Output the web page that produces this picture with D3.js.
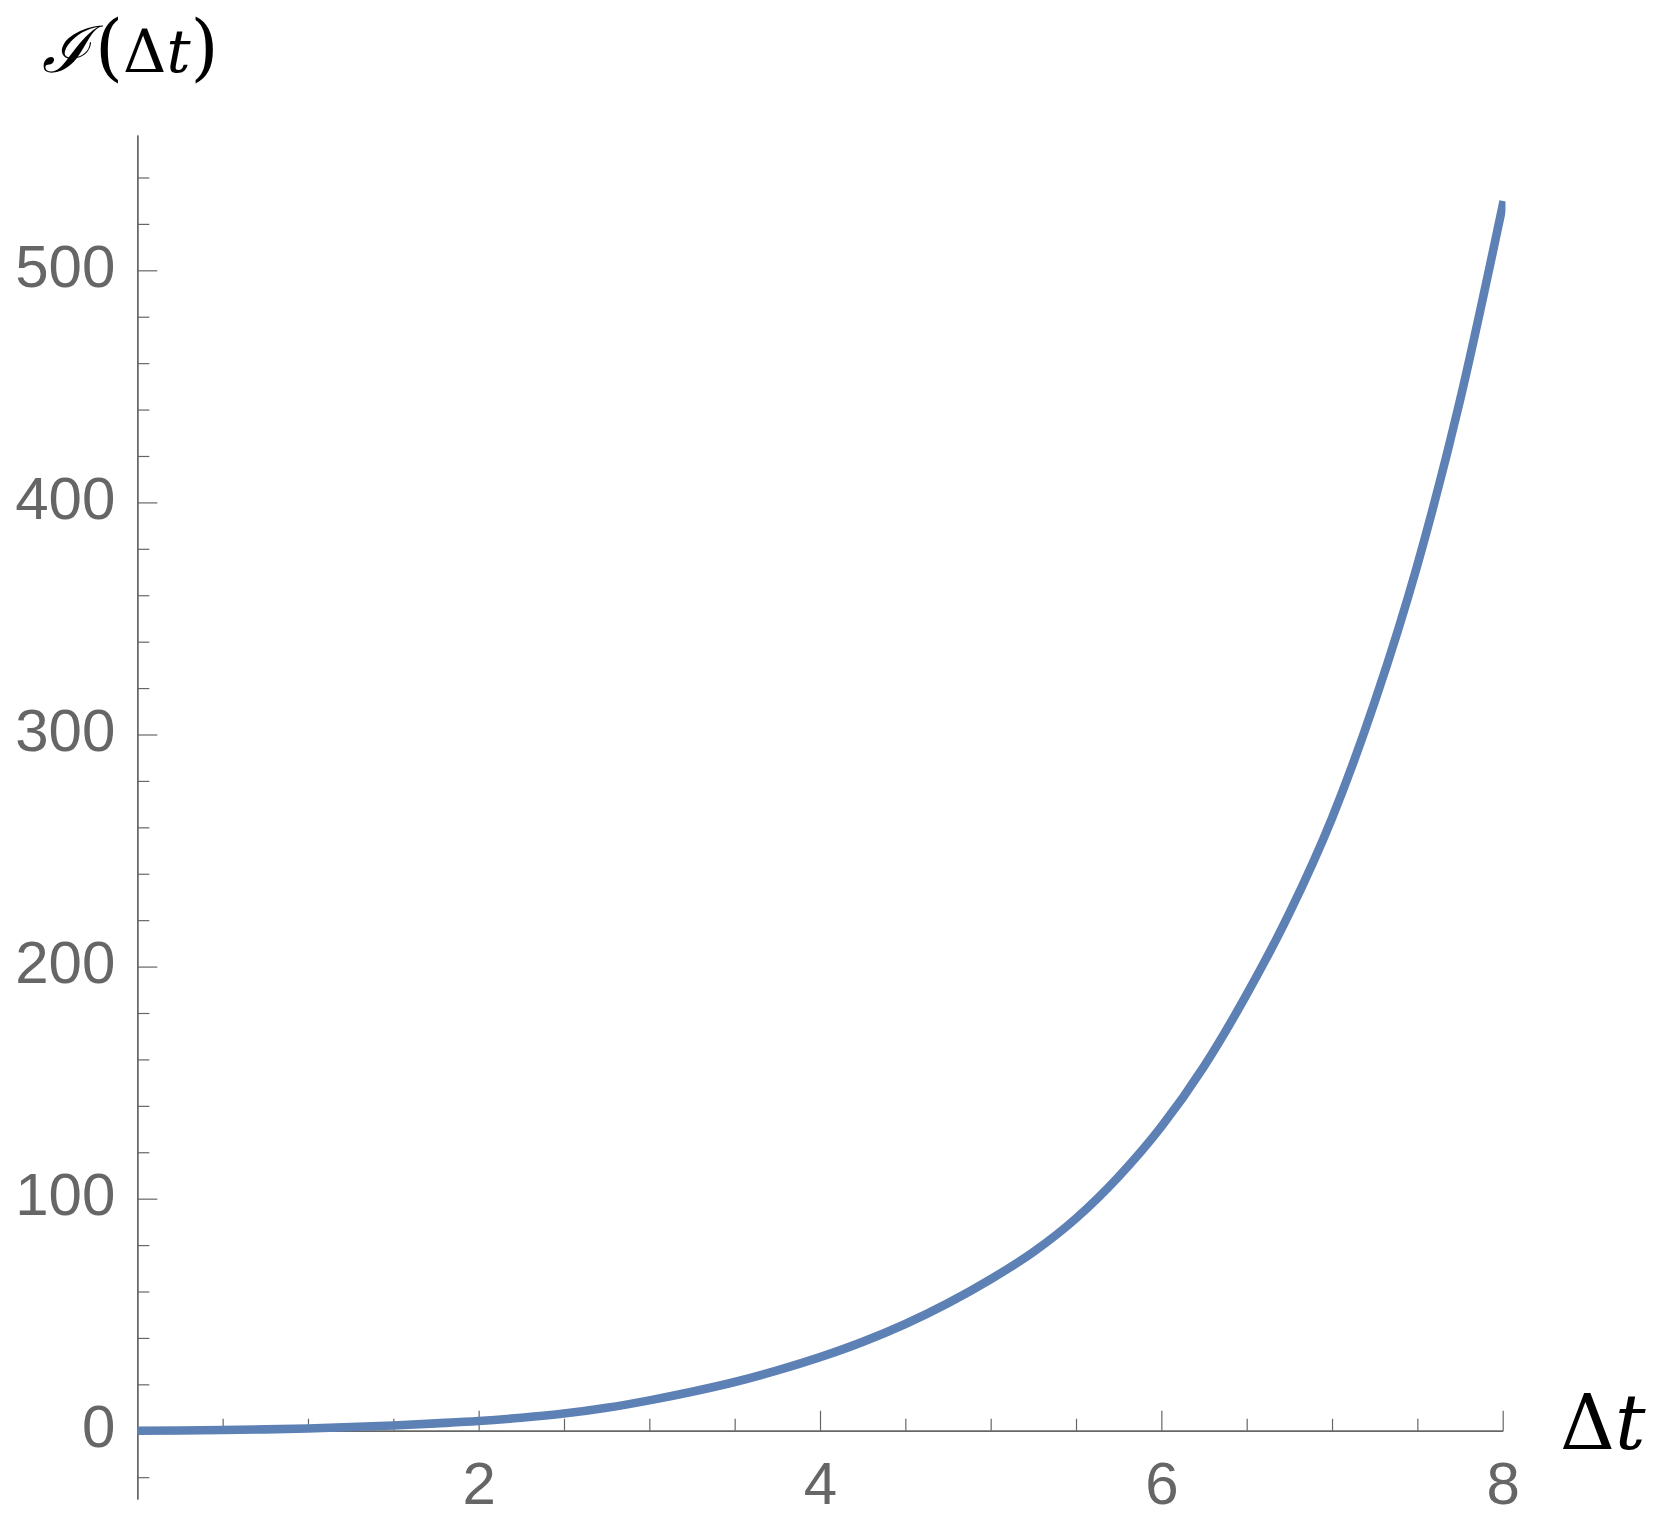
<!DOCTYPE html>
<html>
<head>
<meta charset="utf-8">
<script src="https://cdn.jsdelivr.net/npm/d3@7"></script>
<style>
  body { margin:0; background:#fff; }
  svg { display:block; }
</style>
</head>
<body>
<div id="chart"></div>
<script>
// values
var dt = [0,0.25,0.5,0.75,1,1.25,1.5,1.75,2,2.25,2.5,2.75,3,3.25,3.5,3.75,4,4.25,4.5,4.75,5,5.25,5.5,5.75,6,6.25,6.5,6.75,7,7.25,7.5,7.75,8]
var intensity = [0,0.1,0.3,0.6,1.0,1.6,2.3,3.2,4.2,5.6,7.4,9.9,13.1,16.8,21,26,31.7,38.3,46,55,65.3,77,91.5,109.5,131,157,188,223,264,314,373,444,528]
var xMajor = [2,4,6,8]
var xMinor = [0.5,1,1.5,2.5,3,3.5,4.5,5,5.5,6.5,7,7.5]
var yMajor = [0,100,200,300,400,500]
var yMinor = [-20,20,40,60,80,120,140,160,180,220,240,260,280,320,340,360,380,420,440,460,480,520,540]

var W = 1663, H = 1538
var gray = "#666666", blue = "#5e81b5"

var svg = d3.select("#chart").append("svg").attr("width",W).attr("height",H)
svg.append("rect").attr("width",W).attr("height",H).attr("fill","#fff")

var x = d3.scaleLinear().domain([0,8]).range([137.3,1502.7])
var y = d3.scaleLinear().domain([-29.4,558.3]).range([1499,135])

var data = dt.map((t,i)=>({t:t,v:intensity[i]}))

// minor ticks first, then major axes with labels
svg.append("g").attr("transform","translate(0,"+y(0)+")")
  .call(d3.axisBottom(x).tickValues(xMinor).tickSizeInner(-12).tickSizeOuter(0).tickFormat(""))
svg.append("g").attr("transform","translate("+x(0)+",0)")
  .call(d3.axisLeft(y).tickValues(yMinor).tickSizeInner(-12).tickSizeOuter(0).tickFormat(""))

var xAx = svg.append("g").attr("transform","translate(0,"+y(0)+")")
  .call(d3.axisBottom(x).tickValues(xMajor).tickSizeInner(-20).tickSizeOuter(0).tickPadding(31).tickFormat(d3.format("d")))
var yAx = svg.append("g").attr("transform","translate("+x(0)+",0)")
  .call(d3.axisLeft(y).tickValues(yMajor).tickSizeInner(-20).tickSizeOuter(0).tickPadding(22).tickFormat(d3.format("d")))

svg.selectAll(".domain").attr("stroke",gray).attr("stroke-width",1.4)
svg.selectAll(".tick line").attr("stroke",gray).attr("stroke-width",1.2)
svg.selectAll(".tick text").attr("fill",gray)
  .style("font-family","'Liberation Sans', Arial, sans-serif").style("font-size","60px")
yAx.selectAll(".tick text").attr("dy","16px")

// curve
svg.append("clipPath").attr("id","clip").append("rect")
  .attr("x",x(0)).attr("y",0).attr("width",x(8)-x(0)+2.8).attr("height",H)
var line = d3.line().x(d=>x(d.t)).y(d=>y(d.v)).curve(d3.curveMonotoneX)
svg.append("path").datum(data).attr("d",line).attr("clip-path","url(#clip)")
  .attr("fill","none").attr("stroke",blue).attr("stroke-width",8.6).attr("stroke-linecap","square")

// axis labels
var serif = "'DejaVu Serif', 'Liberation Serif', serif"
var yTitle = svg.append("text").attr("x",42).attr("y",72).style("font-family",serif).style("font-size","60px").attr("fill","#000")
yTitle.append("tspan").text("ℐ").style("font-style","italic").style("font-size","64px")
yTitle.append("tspan").text("(").attr("dx",5).style("font-size","72px")
yTitle.append("tspan").text("Δ")
yTitle.append("tspan").text("t").style("font-style","italic")
yTitle.append("tspan").text(")").style("font-size","72px")

var xTitle = svg.append("text").attr("x",1560).attr("y",1449).style("font-family",serif).style("font-size","76px").attr("fill","#000")
xTitle.append("tspan").text("Δ")
xTitle.append("tspan").text("t").style("font-style","italic")
</script>
</body>
</html>
